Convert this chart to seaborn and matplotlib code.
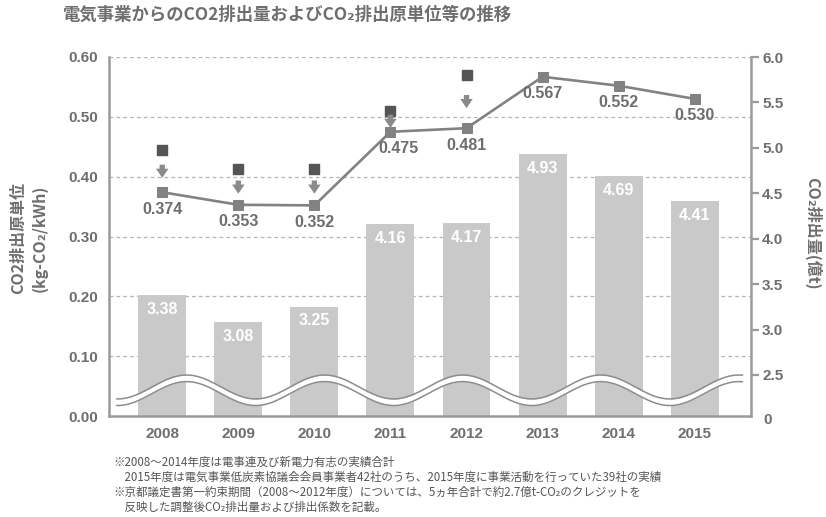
import matplotlib
matplotlib.use("Agg")
import matplotlib.pyplot as plt
import seaborn as sns
import numpy as np
import pandas as pd

# ---------------- data ----------------
years = ["2008", "2009", "2010", "2011", "2012", "2013", "2014", "2015"]
emissions = [3.38, 3.08, 3.25, 4.16, 4.17, 4.93, 4.69, 4.41]          # 億t (right axis)
intensity = [0.374, 0.353, 0.352, 0.475, 0.481, 0.567, 0.552, 0.530]   # kg-CO2/kWh (left axis)
pre_credit_years = ["2008", "2009", "2010", "2011", "2012"]
pre_credit_intensity = [0.444, 0.412, 0.413, 0.510, 0.570]
left_ticks = [0.00, 0.10, 0.20, 0.30, 0.40, 0.50, 0.60]
left_ticklabels = ["0.00", "0.10", "0.20", "0.30", "0.40", "0.50", "0.60"]
right_ticks = [2.5, 3.0, 3.5, 4.0, 4.5, 5.0, 5.5, 6.0]
right_ticklabels = ["2.5", "3.0", "3.5", "4.0", "4.5", "5.0", "5.5", "6.0"]

title = "電気事業からのCO2排出量およびCO₂排出原単位等の推移"
left_label = "CO2排出原単位\n(kg-CO₂/kWh)"
right_label = "CO₂排出量(億t)"
notes = [
    "※2008～2014年度は電事連及び新電力有志の実績合計",
    "　2015年度は電気事業低炭素協議会会員事業者42社のうち、2015年度に事業活動を行っていた39社の実績",
    "※京都議定書第一約束期間（2008～2012年度）については、5ヵ年合計で約2.7億t-CO₂のクレジットを",
    "　反映した調整後CO₂排出量および排出係数を記載。",
]

# ---------------- style ----------------
sns.set_theme(style="white")
plt.rcParams["font.family"] = ["Liberation Sans", "Noto Sans CJK JP", "DejaVu Sans"]
CJK = ["Noto Sans CJK JP", "DejaVu Sans"]

TXT = "#6e6e6e"
SPINE = "#9a9a9a"
BAR = "#c9c9c9"
LINE = "#828282"
DARK = "#555555"
GRID = "#b5b5b5"

W, H = 826, 517
fig = plt.figure(figsize=(W / 100, H / 100), dpi=100)
ax_b = fig.add_axes([109 / W, 1 - 416 / H, (751 - 109) / W, (416 - 57) / H])
ax_l = ax_b.twinx()
ax_l.patch.set_visible(False)

pos = np.arange(len(years))
df = pd.DataFrame({"year": years, "emissions": emissions, "intensity": intensity, "pos": pos})

# bars on right scale
sns.barplot(data=df, x="year", y="emissions", ax=ax_b, color=BAR, saturation=1,
            width=0.63, edgecolor="none", zorder=2)
r_top = 6.0
r_bottom = 6.0 - (416 - 57) / ((375 - 57) / 3.5)
ax_b.set_ylim(r_bottom, r_top)
ax_l.set_ylim(0.0, 0.60)
ax_b.set_xlim(-0.70, 7.74)

# grid lines at left-scale values, drawn beneath the bars
for v in left_ticks[1:]:
    ax_b.plot([0, 1], [v, v], transform=ax_l.get_yaxis_transform(), color=GRID,
              lw=0.9, ls=(0, (3, 2.5)), zorder=1)

# bar labels
for i, e in enumerate(emissions):
    ax_b.annotate(f"{e:.2f}", xy=(i, e), xytext=(0, -14), textcoords="offset pixels",
                  ha="center", va="center", color="white", fontsize=11.5,
                  fontweight="bold", zorder=3)

# axis-break wave (decoration)
xw = np.linspace(-0.6, 7.63, 500)
cw = 0.043 + 0.020 * np.cos(2 * np.pi * (xw - 0.32) / 1.815)
ax_l.fill_between(xw, cw - 0.0055, cw + 0.0055, color="white", lw=0, zorder=3)
ax_l.plot(xw, cw + 0.0055, color="#8c8c8c", lw=1.1, zorder=4)
ax_l.plot(xw, cw - 0.0055, color="#8c8c8c", lw=1.1, zorder=4)

# intensity line
sns.lineplot(data=df, x="pos", y="intensity", ax=ax_l, color=LINE, lw=1.9,
             marker="s", markersize=7, markeredgecolor=LINE, markerfacecolor=LINE, zorder=6)
for i, v in enumerate(intensity):
    dx = 8 if years[i] == "2011" else 0
    ax_l.annotate(f"{v:.3f}", xy=(i, v), xytext=(dx, -17), textcoords="offset pixels",
                  ha="center", va="center", color=TXT, fontsize=11.5, fontweight="bold",
                  zorder=7)

# pre-credit values with arrows
pre_pos = [years.index(y) for y in pre_credit_years]
ax_l.plot(pre_pos, pre_credit_intensity, ls="none", marker="s", markersize=7.5,
          color=DARK, zorder=6)
for p, top in zip(pre_pos, pre_credit_intensity):
    mid = (top + intensity[p]) / 2
    ax_l.annotate("", xy=(p, mid - 0.011), xytext=(p, mid + 0.011),
                  arrowprops=dict(arrowstyle="simple,head_width=0.75,head_length=0.55,tail_width=0.32",
                                  fc="#8a8a8a", ec="none", shrinkA=0, shrinkB=0), zorder=6)

# ---------------- axes cosmetics ----------------
ax_l.set_xlabel("")
ax_l.set_ylabel("")
ax_b.set_xlabel("")
ax_b.set_ylabel("")

for s in ax_l.spines.values():
    s.set_visible(False)
for name in ["left", "right", "bottom"]:
    ax_b.spines[name].set_visible(True)
    ax_b.spines[name].set_color(SPINE)
    ax_b.spines[name].set_linewidth(1.8)
ax_b.spines["top"].set_visible(False)

# right axis (bars)
ax_b.yaxis.tick_right()
ax_b.set_yticks(right_ticks)
ax_b.set_yticklabels(right_ticklabels)
ax_b.tick_params(axis="y", which="major", direction="out", length=5.5, width=1.6,
                 color=SPINE, pad=2.5, labelsize=11, labelcolor=TXT, right=True, left=False)
for t in ax_b.get_yticklabels():
    t.set_fontweight("bold")
ax_b.text(1.0, 0.0, "0", transform=ax_b.transAxes, ha="left", va="center",
          fontsize=11, fontweight="bold", color=TXT)
ax_b.texts[-1].set_position((1.0 + 12 / (751 - 109), -4 / (416 - 57)))

# x axis
ax_b.set_xticks(pos)
ax_b.set_xticklabels(years)
ax_b.tick_params(axis="x", length=0, pad=8, labelsize=11, labelcolor=TXT)
for t in ax_b.get_xticklabels():
    t.set_fontweight("bold")

# left axis (line)
ax_l.yaxis.tick_left()
ax_l.set_yticks(left_ticks)
ax_l.set_yticklabels(left_ticklabels)
ax_l.tick_params(axis="y", length=0, pad=8, labelsize=11, labelcolor=TXT, left=True, right=False)
for t in ax_l.get_yticklabels():
    t.set_fontweight("bold")

# ---------------- texts ----------------
fig.text(63 / W, 1 - 15 / H, title, ha="left", va="center", fontsize=12.5,
         fontweight="bold", color=TXT, family=CJK)
fig.text(29 / W, 1 - 238 / H, left_label, rotation=90, ha="center", va="center",
         multialignment="center", linespacing=1.35, fontsize=11.5, fontweight="bold",
         color=TXT, family=CJK)
fig.text(813 / W, 1 - 233 / H, right_label, rotation=-90, ha="center", va="center",
         fontsize=11.5, fontweight="bold", color=TXT, family=CJK)
for k, line in enumerate(notes):
    fig.text(113 / W, 1 - (462 + 15 * k) / H, line, ha="left", va="center",
             fontsize=8.3, color="#555555", family=CJK)

fig.savefig("out.png", dpi=100)
